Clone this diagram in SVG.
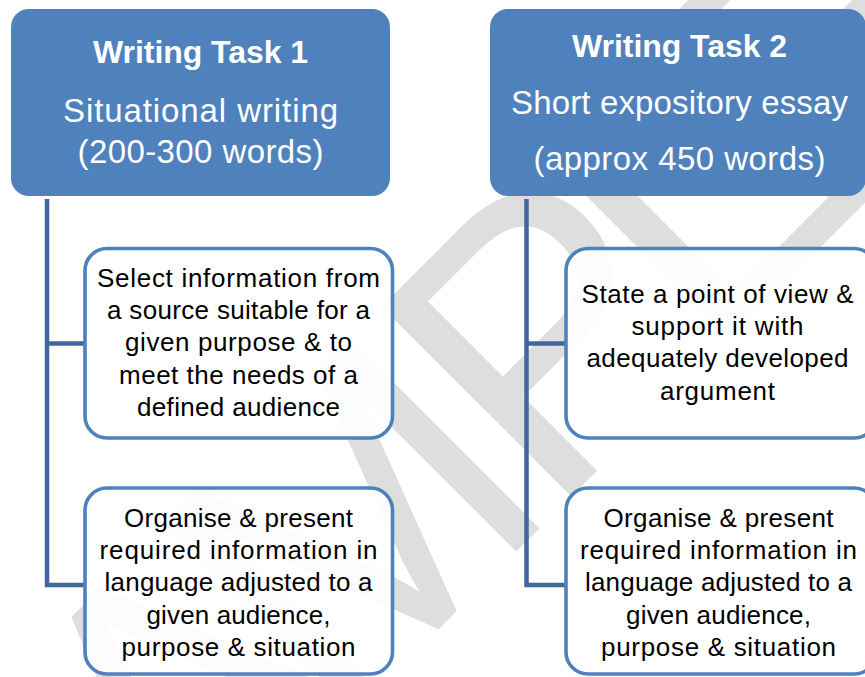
<svg xmlns="http://www.w3.org/2000/svg" width="865" height="677" viewBox="0 0 865 677">
<style>
.hdr{fill:#4f81bd}
.child{fill:#ffffff;fill-opacity:.9;stroke:#4f81bd;stroke-width:3.6}
.conn{stroke:#41689c;stroke-width:4.5;fill:none;stroke-linejoin:miter}
.ht{font-family:"Liberation Sans",Arial,sans-serif;fill:#ffffff;text-anchor:middle}
.b{font-weight:bold;font-size:32px}
.r{font-size:33px}
.bt{font-family:"Liberation Sans",Arial,sans-serif;font-size:26px;fill:#000000;text-anchor:middle}
.wm{font-family:"Liberation Sans",Arial,sans-serif;font-size:390px;fill:#dedede}
</style>
<rect width="865" height="677" fill="#ffffff"/>
<text class="wm" transform="rotate(-45)" x="-756 -496 -285 21 244 414" y="755">SAMPLE</text>
<g id="task1">
<rect class="hdr" x="11" y="9" width="379" height="187" rx="18"/>
<text class="ht b" x="200.5" y="63" textLength="215">Writing Task 1</text>
<text class="ht r" x="200.5" y="122" textLength="275">Situational writing</text>
<text class="ht r" x="200.5" y="163" textLength="246">(200-300 words)</text>
</g>
<g id="task2">
<rect class="hdr" x="490" y="9" width="376" height="187" rx="18"/>
<text class="ht b" x="679.5" y="57" textLength="215">Writing Task 2</text>
<text class="ht r" x="679.5" y="114" textLength="337">Short expository essay</text>
<text class="ht r" x="679.5" y="170" textLength="292">(approx 450 words)</text>
</g>
<g id="connectors">
<path class="conn" d="M47,199 V585 H85 M47,343.5 H85"/>
<path class="conn" d="M526.5,199 V585 H566 M526.5,343.5 H566"/>
</g>
<g id="t1a">
<rect class="child" x="85" y="248.5" width="307.5" height="189.5" rx="22"/>
<text class="bt" x="238.5" y="287" textLength="283">Select information from</text>
<text class="bt" x="238.5" y="318.5" textLength="263">a source suitable for a</text>
<text class="bt" x="238.5" y="351" textLength="227">given purpose &amp; to</text>
<text class="bt" x="238.5" y="384" textLength="239">meet the needs of a</text>
<text class="bt" x="238.5" y="416" textLength="203">defined audience</text>
</g>
<g id="t1b">
<rect class="child" x="85" y="488" width="307.5" height="186" rx="22"/>
<text class="bt" x="238.5" y="527" textLength="229">Organise &amp; present</text>
<text class="bt" x="238.5" y="559" textLength="278">required information in</text>
<text class="bt" x="238.5" y="591" textLength="268">language adjusted to a</text>
<text class="bt" x="238.5" y="623.5" textLength="184">given audience,</text>
<text class="bt" x="238.5" y="656" textLength="234">purpose &amp; situation</text>
</g>
<g id="t2a">
<rect class="child" x="566" y="248.5" width="310" height="189.5" rx="22"/>
<text class="bt" x="717.5" y="303" textLength="272">State a point of view &amp;</text>
<text class="bt" x="717.5" y="335" textLength="172">support it with</text>
<text class="bt" x="717.5" y="367" textLength="262">adequately developed</text>
<text class="bt" x="717.5" y="399.5" textLength="115">argument</text>
</g>
<g id="t2b">
<rect class="child" x="566" y="488" width="310" height="186" rx="22"/>
<text class="bt" x="718.5" y="527" textLength="230">Organise &amp; present</text>
<text class="bt" x="718.5" y="559" textLength="277">required information in</text>
<text class="bt" x="718.5" y="591" textLength="267">language adjusted to a</text>
<text class="bt" x="718.5" y="623.5" textLength="185">given audience,</text>
<text class="bt" x="718.5" y="656" textLength="235">purpose &amp; situation</text>
</g>
</svg>
